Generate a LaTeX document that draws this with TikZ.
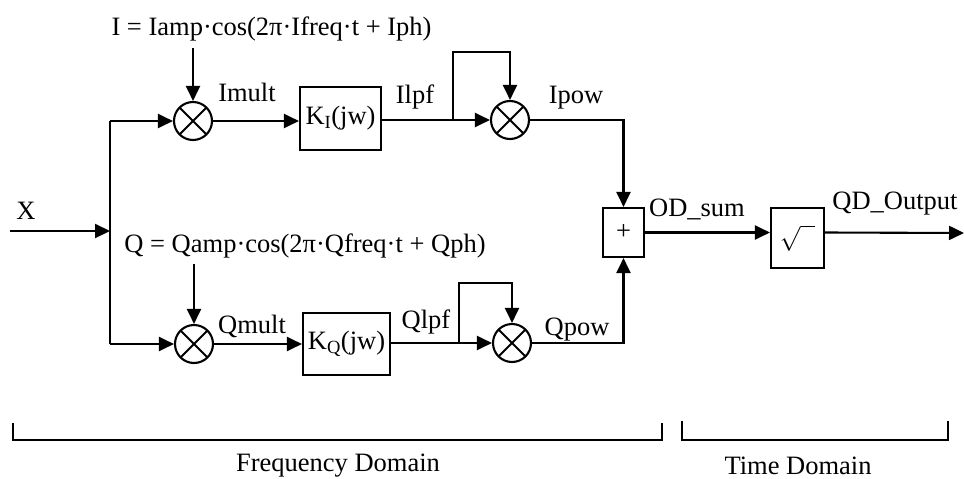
\documentclass[tikz,border=0pt]{standalone}
\usepackage{fontspec}
\setmainfont{Liberation Serif}
\usepackage{tikz}
\usetikzlibrary{arrows.meta,calc,positioning}

\begin{document}
\begin{tikzpicture}[x=1pt,y=-1pt,>={Triangle[length=15pt,width=14pt]},line width=2.1pt,
    font=\fontsize{26.5}{30}\selectfont,
    mult/.style={circle,draw,line width=2.1pt,minimum size=38pt,inner sep=0pt,
      path picture={\draw[line width=2pt] (path picture bounding box.north west) -- (path picture bounding box.south east)
        (path picture bounding box.north east) -- (path picture bounding box.south west);}},
    blk/.style={draw,line width=2.1pt,inner sep=0pt,align=center},
    lbl/.style={inner sep=0pt,anchor=center}]
  \useasboundingbox (0,0) rectangle (964,479);

  \node[lbl] (ieq) at (271.5,29) {I = Iamp·cos(2π·Ifreq·t + Iph)};
  \node[lbl] (qeq) at (305,246) {Q = Qamp·cos(2π·Qfreq·t + Qph)};
  \node[mult] (mi) at (193,121) {};
  \node[mult] (mq) at (194,344) {};
  \node[blk,minimum width=81pt,minimum height=63pt] (ki) at (340.5,118.5) {K\textsubscript{I}(jw)};
  \node[blk,minimum width=87pt,minimum height=62pt] (kq) at (346.5,344) {K\textsubscript{Q}(jw)};
  \node[mult] (pi) at (510,120) {};
  \node[mult] (pq) at (512,343) {};
  \node[blk,minimum width=41pt,minimum height=49pt] (sum) at (623.5,232.5) {\raisebox{-7pt}{+}};
  \node[blk,minimum width=53pt,minimum height=60pt] (sq) at (797.5,238) {\fontsize{36}{38}\selectfont$\sqrt{\hphantom{n}}$};

  \coordinate (xin) at (10,231);
  \coordinate (spl) at (110,231);
  \coordinate (fbi) at (453,52);
  \coordinate (fbq) at (459,283);
  \coordinate (out) at (964,233);

  \node[lbl] (xl) at (26,211) {X};
  \node[lbl] (iml) at (247,92) {Imult};
  \node[lbl] (ill) at (415,97) {Ilpf};
  \node[lbl] (ipl) at (576,98) {Ipow};
  \node[lbl] (qml) at (252,326) {Qmult};
  \node[lbl] (qll) at (426,322) {Qlpf};
  \node[lbl] (qpl) at (577,330) {Qpow};
  \node[lbl] (odl) at (697,209) {OD\_sum};
  \node[lbl] (qdl) at (895,204) {QD\_Output};

  \draw[->] (xin) -- (spl);
  \draw (spl |- mi) -- (spl |- mq);
  \draw[->] (spl |- mi) -- (mi.west);
  \draw[->] (spl |- mq) -- (mq.west);
  \draw[->] (mi |- 0,48) -- (mi.north);
  \draw[->] (mq |- 0,264) -- (mq.north);
  \draw[->] (mi.east) -- (mi.east -| ki.west);
  \draw[->] (mq.east) -- (kq.west);
  \draw[->] (ki.east |- pi) -- (pi.west);
  \draw[->] (kq.east |- pq) -- (pq.west);
  \draw[->] (fbi |- pi) -- (fbi) -| (pi.north);
  \draw[->] (fbq |- pq) -- (fbq) -| (pq.north);
  \draw[->] (pi.east) -| (sum.north);
  \draw[->] (pq.east) -| (sum.south);
  \draw[->] (sum.east) -- (sum.east -| sq.west);
  \draw[->] (sum.east -| sq.east) -- (out);

  \draw[line width=1.6pt] (13,423) -- (13,440) -- (662,440) -- (662,423);
  \draw[line width=1.6pt] (682,421) -- (682,440) -- (948,440) -- (948,421);
  \node[lbl] (fd) at (338,466) {Frequency Domain};
  \node[lbl] (td) at (798,466) {Time Domain};
\end{tikzpicture}
\end{document}
